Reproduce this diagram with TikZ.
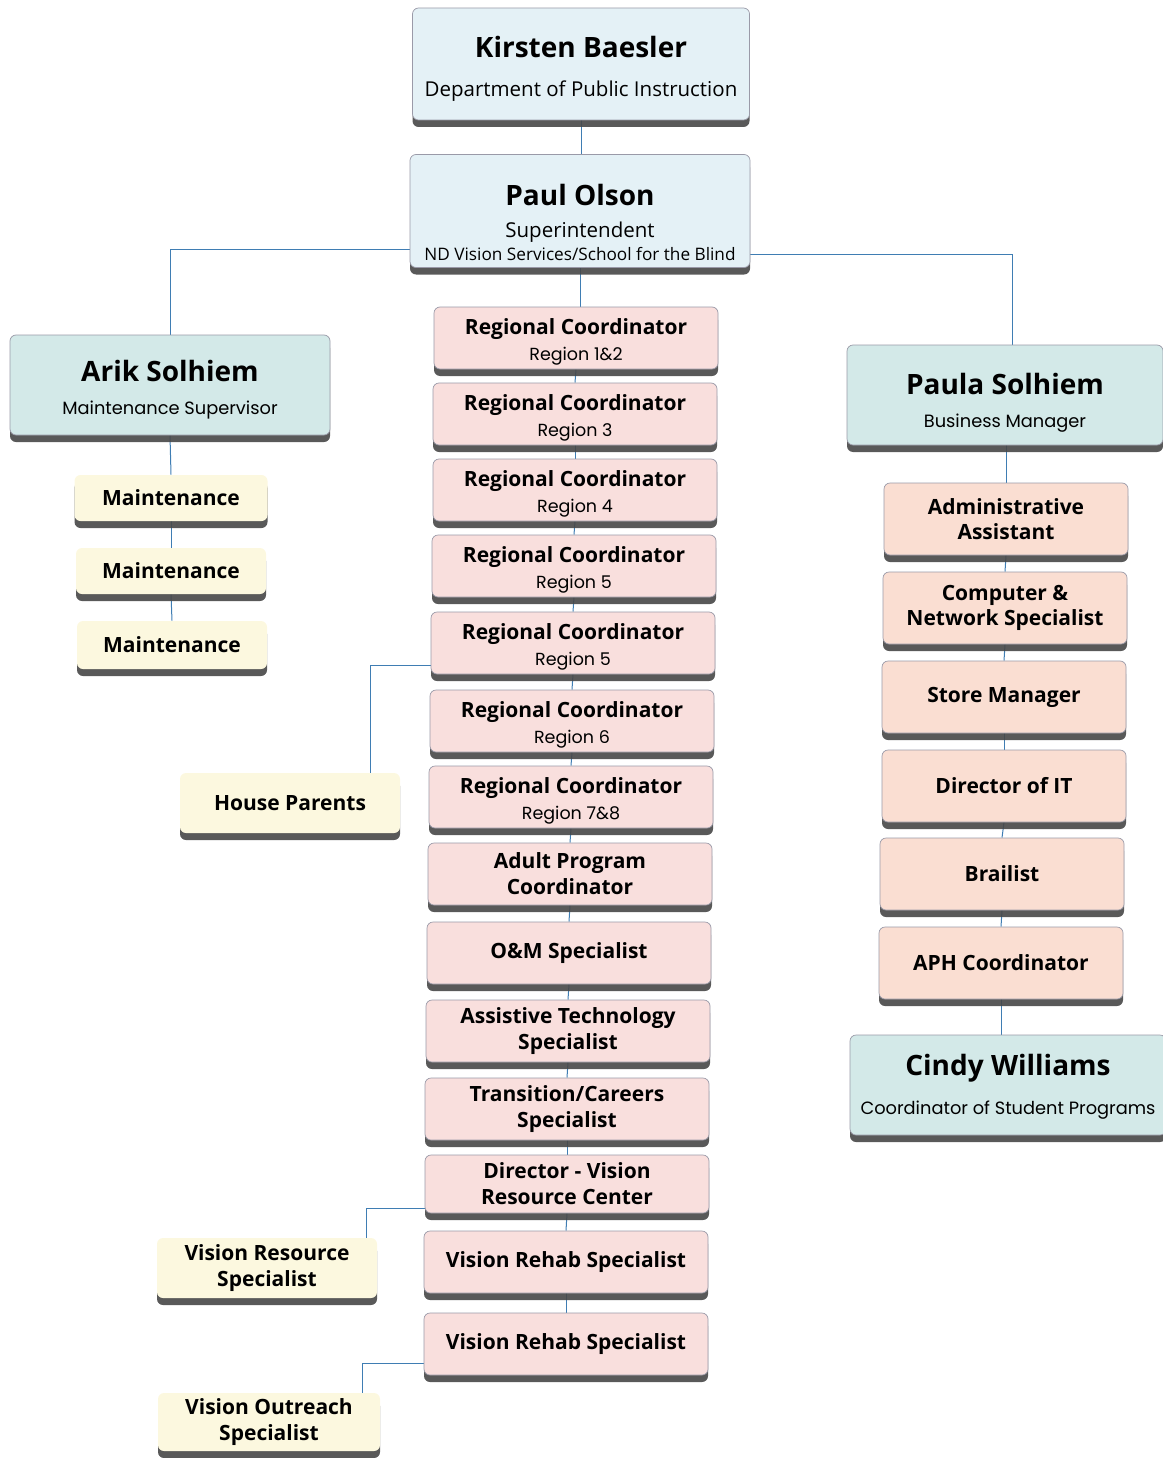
\documentclass[tikz,border=0pt]{standalone}
\usepackage{fontspec}
\setmainfont{Open Sans}
\newfontfamily\geofont{Poppins}
\usetikzlibrary{shadows,backgrounds}

\definecolor{headblue}{HTML}{E4F1F6}
\definecolor{mgrteal}{HTML}{D3E9E8}
\definecolor{rolepink}{HTML}{F9DFDD}
\definecolor{rolepeach}{HTML}{FADED2}
\definecolor{staffcream}{HTML}{FCF8DF}
\definecolor{linkblue}{HTML}{3F7DB3}
\definecolor{edgegray}{HTML}{9A9AA8}

\tikzset{
  orgbox/.style={draw=edgegray, line width=0.7pt, rounded corners=6pt, align=center, inner sep=2pt,
    drop shadow={shadow xshift=0pt, shadow yshift=-7pt, fill=black!72, opacity=0.9}},
  headbox/.style={orgbox, fill=headblue, font=\fontsize{20.5}{36}\selectfont},
  mgrbox/.style={orgbox, fill=mgrteal, font=\fontsize{17.8}{33}\selectfont},
  rolebox/.style={orgbox, fill=rolepink, minimum width=284pt, minimum height=62pt,
    font=\fontsize{21}{26}\selectfont\bfseries},
  sidebox/.style={orgbox, fill=rolepeach, minimum width=244pt, minimum height=72pt,
    font=\fontsize{21}{25.5}\selectfont\bfseries},
  staffbox/.style={orgbox, draw=none, fill=staffcream, font=\fontsize{21}{26}\selectfont\bfseries},
  link/.style={draw=linkblue, line width=1pt}
}

\newcommand{\bigname}[1]{{\fontsize{28}{34}\selectfont\bfseries #1}}
\newcommand{\region}[1]{{\geofont\fontsize{17.5}{24}\selectfont\mdseries #1}}
\newcommand{\lift}[1]{\rule{0pt}{#1}}

\begin{document}
\begin{tikzpicture}[x=1pt, y=-1pt]
    \useasboundingbox (0,0) rectangle (1162,1458);

    % Direction
    \node[headbox, minimum width=337pt, minimum height=112pt] (kirsten) at (581,64) {
        \lift{31pt}\bigname{Kirsten Baesler}\\[3pt]
        Department of Public Instruction
    };
    \node[headbox, minimum width=340pt, minimum height=113pt] (paul) at (580,211) {
        \lift{44pt}\bigname{Paul Olson}\\[-4pt]
        Superintendent\\[-13pt]
        {\fontsize{17.2}{20}\selectfont ND Vision Services/School for the Blind}
    };

    % Managers
    \node[mgrbox, minimum width=320pt, minimum height=100pt] (arik) at (170,385) {
        \lift{30pt}\bigname{Arik Solhiem}\\
        {\geofont Maintenance Supervisor}
    };
    \node[mgrbox, minimum width=316pt, minimum height=100pt] (paula) at (1005,395) {
        \lift{36pt}\bigname{Paula Solhiem}\\
        {\geofont Business Manager}
    };
    \node[mgrbox, minimum width=316pt, minimum height=100pt] (cindy) at (1008,1085) {
        \lift{24pt}\bigname{Cindy Williams}\\[6pt]
        {\geofont Coordinator of Student Programs}
    };

    % Maintenance staff
    \node[staffbox, minimum width=193pt, minimum height=46pt] (maint1) at (171,498) {Maintenance};
    \node[staffbox, minimum width=190pt, minimum height=46pt] (maint2) at (171,571) {Maintenance};
    \node[staffbox, minimum width=190pt, minimum height=48pt] (maint3) at (172,645) {Maintenance};

    % Other staff
    \node[staffbox, minimum width=220pt, minimum height=60pt] (house) at (290,803) {House Parents};
    \node[staffbox, minimum width=220pt, minimum height=60pt] (vresource) at (267,1268) {Vision Resource\\Specialist};
    \node[staffbox, minimum width=222pt, minimum height=58pt] (voutreach) at (269,1422) {Vision Outreach\\Specialist};

    % Central column
    \node[rolebox] (rc1) at (576,338) {\lift{23pt}Regional Coordinator\\\region{Region 1\&2}};
    \node[rolebox] (rc2) at (575,414) {\lift{23pt}Regional Coordinator\\\region{Region 3}};
    \node[rolebox] (rc3) at (575,490) {\lift{23pt}Regional Coordinator\\\region{Region 4}};
    \node[rolebox] (rc4) at (574,566) {\lift{23pt}Regional Coordinator\\\region{Region 5}};
    \node[rolebox] (rc5) at (573,643) {\lift{23pt}Regional Coordinator\\\region{Region 5}};
    \node[rolebox] (rc6) at (572,721) {\lift{23pt}Regional Coordinator\\\region{Region 6}};
    \node[rolebox] (rc7) at (571,797) {\lift{23pt}Regional Coordinator\\\region{Region 7\&8}};
    \node[rolebox] (adult) at (570,874) {Adult Program\\Coordinator};
    \node[rolebox] (om) at (569,953) {O\&M Specialist};
    \node[rolebox] (atech) at (568,1031) {Assistive Technology\\Specialist};
    \node[rolebox] (trans) at (567,1109) {Transition/Careers\\Specialist};
    \node[rolebox, minimum height=58pt] (dvrc) at (567,1184) {Director - Vision\\Resource Center};
    \node[rolebox] (vrehab1) at (566,1262) {Vision Rehab Specialist};
    \node[rolebox] (vrehab2) at (566,1344) {Vision Rehab Specialist};

    % Business column
    \node[sidebox] (admin) at (1006,519) {Administrative\\Assistant};
    \node[sidebox] (network) at (1005,608) {Computer \&\\Network Specialist};
    \node[sidebox] (store) at (1004,697) {Store Manager};
    \node[sidebox] (dirit) at (1004,786) {Director of IT};
    \node[sidebox] (brail) at (1002,874) {Brailist};
    \node[sidebox] (aph) at (1001,963) {APH Coordinator};

    % Connectors
    \begin{scope}[on background layer]
        \draw[link] (kirsten.south) -- (kirsten.south |- paul.north);
        \draw[link] ([yshift=-38pt]paul.west) -| (arik.north);
        \draw[link] ([yshift=-43pt]paul.east) -| ([xshift=7pt]paula.north);
        \draw[link] (paul.south) -- (paul.south |- rc1.north);
        \draw[link] (arik.south) -- (maint1.north);
        \draw[link] (maint1.south) -- (maint2.north);
        \draw[link] (maint2.south) -- (maint3.north);
        \foreach \a/\b in {rc1/rc2, rc2/rc3, rc3/rc4, rc4/rc5, rc5/rc6, rc6/rc7, rc7/adult,
            adult/om, om/atech, atech/trans, trans/dvrc, dvrc/vrehab1, vrehab1/vrehab2}
            \draw[link] (\a.south) -- (\b.north);
        \draw[link] ([yshift=-22pt]rc5.west) -| ([xshift=-30pt]house.north east);
        \draw[link] ([yshift=-24pt]dvrc.west) -| ([xshift=-11pt]vresource.north east);
        \draw[link] ([yshift=-19pt]vrehab2.west) -| ([xshift=-18pt]voutreach.north east);
        \draw[link] (paula.south -| admin.north) -- (admin.north);
        \foreach \a/\b in {admin/network, network/store, store/dirit, dirit/brail, brail/aph}
            \draw[link] (\a.south) -- (\b.north);
        \draw[link] (aph.south) -- (aph.south |- cindy.north);
    \end{scope}
\end{tikzpicture}
\end{document}
